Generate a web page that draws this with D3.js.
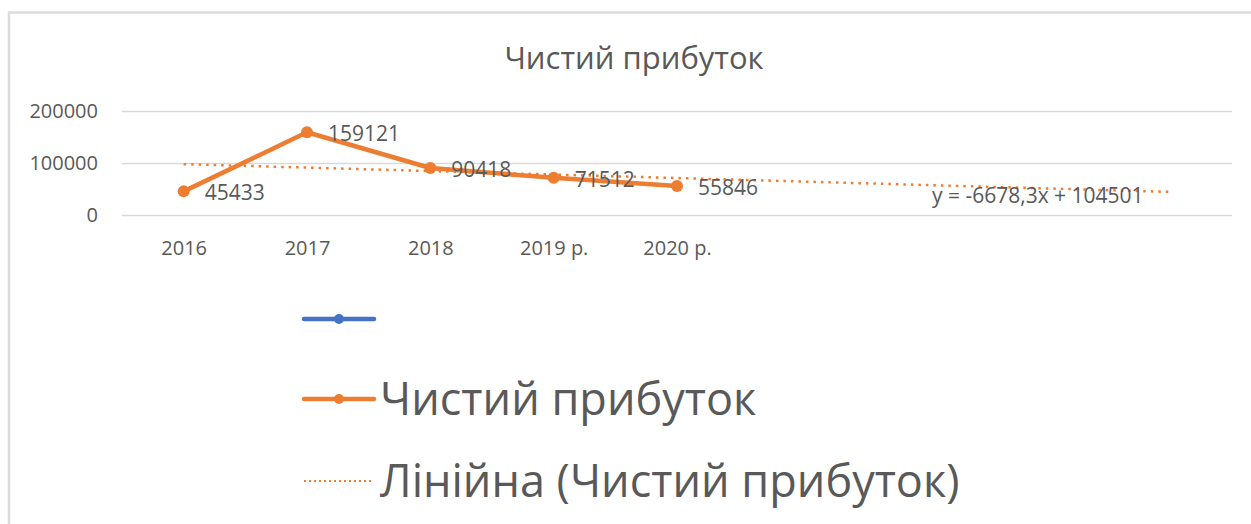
<!DOCTYPE html>
<html>
<head>
<meta charset="utf-8">
<script src="https://cdn.jsdelivr.net/npm/d3@7"></script>
<style>
  body { margin: 0; background: #fff; }
  svg text { font-family: "Open Sans", "Noto Sans", sans-serif; fill: #595959; }
</style>
</head>
<body>
<svg id="chart" width="1251" height="524"></svg>
<script>
// ---- data ----
const categories = ["2016", "2017", "2018", "2019 р.", "2020 р."];
const profit = [45433, 159121, 90418, 71512, 55846];
const yTicks = [0, 100000, 200000];
const trendSlope = -6678.3;
const trendIntercept = 104501;
const forecastPeriods = 4;
const chartTitle = "Чистий прибуток";
const seriesName = "Чистий прибуток";
const trendName = "Лінійна (Чистий прибуток)";
const trendLabel = "y = -6678,3x + 104501";

const orange = "#ED7D31", blue = "#4472C4", grid = "#d9d9d9";

const svg = d3.select("#chart");

// frame
svg.append("path")
  .attr("d", "M9,524 V12.5 H1251")
  .attr("fill", "none").attr("stroke", "#dcdcdc").attr("stroke-width", 2.5);

// title
svg.append("text")
  .attr("x", 634).attr("y", 69)
  .attr("text-anchor", "middle")
  .style("font-size", "31px")
  .text(chartTitle);

const nSlots = categories.length + forecastPeriods;
const x = d3.scaleLinear().domain([0.5, nSlots + 0.5]).range([122, 1232]);
const y = d3.scaleLinear().domain([0, 200000]).range([215, 111]);

// y axis + gridlines
const gy = svg.append("g")
  .attr("transform", "translate(122,0)")
  .call(d3.axisLeft(y).tickValues(yTicks).tickSize(-(1232 - 122)).tickPadding(24).tickFormat(d3.format("d")));
gy.select(".domain").remove();
gy.selectAll(".tick line").attr("stroke", grid).attr("stroke-width", 1.6);
gy.selectAll(".tick text").style("font-size", "20px").attr("fill", "#595959");

// x axis labels
const gx = svg.append("g")
  .attr("transform", "translate(0,215)")
  .call(d3.axisBottom(x).tickValues(d3.range(1, categories.length + 1)).tickSize(0).tickPadding(26)
    .tickFormat(d => categories[d - 1]));
gx.select(".domain").remove();
gx.selectAll(".tick text").style("font-size", "20px").attr("fill", "#595959");

// trendline
const trendX = [1, nSlots];
svg.append("line")
  .attr("x1", x(trendX[0])).attr("y1", y(trendIntercept + trendSlope * trendX[0]))
  .attr("x2", x(trendX[1])).attr("y2", y(trendIntercept + trendSlope * trendX[1]))
  .attr("stroke", orange).attr("stroke-width", 2.5)
  .attr("stroke-dasharray", "2.5,5");

// series line
const pts = profit.map((v, i) => [x(i + 1), y(v)]);
svg.append("path")
  .attr("d", d3.line()(pts))
  .attr("fill", "none").attr("stroke", orange)
  .attr("stroke-width", 4.5).attr("stroke-linejoin", "round").attr("stroke-linecap", "round");
svg.selectAll(".pt").data(pts).enter().append("circle")
  .attr("cx", d => d[0]).attr("cy", d => d[1]).attr("r", 6)
  .attr("fill", orange);

// data labels
svg.selectAll(".lbl").data(profit).enter().append("text")
  .attr("x", (d, i) => x(i + 1) + 21)
  .attr("y", d => y(d) + 1)
  .attr("dominant-baseline", "central")
  .style("font-size", "21px")
  .text(d => d);

// trend equation
svg.append("text")
  .attr("x", 932).attr("y", 195)
  .attr("dominant-baseline", "central")
  .style("font-size", "21px")
  .text(trendLabel);

// legend
const legend = [
  { name: "", color: blue, dash: null, marker: true, y: 319 },
  { name: seriesName, color: orange, dash: null, marker: true, y: 399 },
  { name: trendName, color: orange, dash: "2,3", marker: false, y: 481 }
];
const lg = svg.selectAll(".leg").data(legend).enter().append("g");
lg.append("line")
  .attr("x1", 304).attr("x2", 374)
  .attr("y1", d => d.y).attr("y2", d => d.y)
  .attr("stroke", d => d.color)
  .attr("stroke-width", d => d.dash ? 2 : 4.5)
  .attr("stroke-linecap", d => d.dash ? "butt" : "round")
  .attr("stroke-dasharray", d => d.dash);
lg.filter(d => d.marker).append("circle")
  .attr("cx", 339).attr("cy", d => d.y).attr("r", 5)
  .attr("fill", d => d.color);
lg.append("text")
  .attr("x", 380).attr("y", d => d.y + 16)
  .style("font-size", "45px")
  .text(d => d.name);
</script>
</body>
</html>
